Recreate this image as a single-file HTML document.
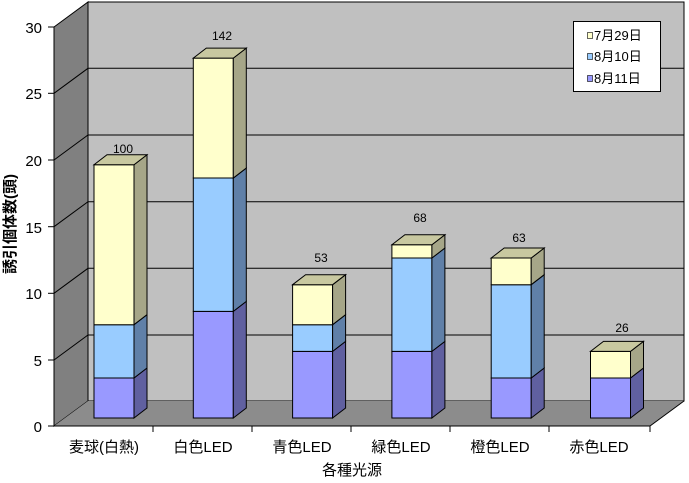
<!DOCTYPE html>
<html><head><meta charset="utf-8"><style>
html,body{margin:0;padding:0;background:#fff;}
svg{display:block;font-family:"Liberation Sans","Noto Sans CJK JP",sans-serif;}
</style></head><body>
<svg width="689" height="483" viewBox="0 0 689 483" xmlns="http://www.w3.org/2000/svg">
<!-- walls -->
<polygon points="88,2 684,2 684,401 88,401" fill="#c0c0c0" stroke="#000" stroke-width="1"/>
<polygon points="54,27 88,2 88,401 54,426" fill="#808080" stroke="#000" stroke-width="1"/>
<polygon points="54,426 88,401 684,401 650,426" fill="#8c8c8c"/>
<line x1="54" y1="426" x2="650" y2="426" stroke="#000"/>
<line x1="650" y1="426" x2="684" y2="401" stroke="#000"/>
<!-- gridlines -->
<g stroke="#000" stroke-width="1" fill="none">
<polyline points="54,93.3 88,68.3 684,68.3"/>
<polyline points="54,160 88,135 684,135"/>
<polyline points="54,226.7 88,201.7 684,201.7"/>
<polyline points="54,293.3 88,268.3 684,268.3"/>
<polyline points="54,360 88,335 684,335"/>
<line x1="54" y1="27" x2="54" y2="426"/>
<line x1="48" y1="27" x2="54" y2="27"/><line x1="48" y1="93.3" x2="54" y2="93.3"/>
<line x1="48" y1="160" x2="54" y2="160"/><line x1="48" y1="226.7" x2="54" y2="226.7"/>
<line x1="48" y1="293.3" x2="54" y2="293.3"/><line x1="48" y1="360" x2="54" y2="360"/>
<line x1="48" y1="426" x2="54" y2="426"/>
<line x1="153" y1="426" x2="153" y2="432"/><line x1="252" y1="426" x2="252" y2="432"/>
<line x1="351" y1="426" x2="351" y2="432"/><line x1="450" y1="426" x2="450" y2="432"/>
<line x1="549" y1="426" x2="549" y2="432"/><line x1="650" y1="426" x2="650" y2="432"/>
</g>
<g font-size="15" text-anchor="end" fill="#000">
<text x="42" y="33">30</text><text x="42" y="99">25</text><text x="42" y="166">20</text>
<text x="42" y="233">15</text><text x="42" y="299">10</text><text x="42" y="366">5</text><text x="42" y="432">0</text>
</g>
<g id="bars" stroke="#000" stroke-width="1"></g>
<g font-size="15" text-anchor="middle">
<text x="104" y="452">麦球(白熱)</text><text x="203" y="452">白色LED</text><text x="302" y="452">青色LED</text>
<text x="401" y="452">緑色LED</text><text x="500" y="452">橙色LED</text><text x="599" y="452">赤色LED</text>
<text x="352" y="475">各種光源</text>
</g>
<text x="0" y="0" font-size="15" font-weight="bold" text-anchor="middle" transform="translate(15,224) rotate(-90)">誘引個体数(頭)</text>
<g font-size="12" text-anchor="middle">
<text x="123" y="153">100</text><text x="222" y="40">142</text><text x="321" y="262">53</text>
<text x="420" y="222">68</text><text x="519" y="242">63</text><text x="622" y="332">26</text>
</g>
<!-- legend -->
<rect x="573.5" y="21.5" width="87" height="70" fill="#fff" stroke="#000"/>
<g font-size="13">
<rect x="587.5" y="32.5" width="5" height="6" fill="#ffffcc" stroke="#000" stroke-width="0.6"/><text x="594" y="40">7月29日</text>
<rect x="587.5" y="53.5" width="5" height="6" fill="#99ccff" stroke="#000" stroke-width="0.6"/><text x="594" y="61">8月10日</text>
<rect x="587.5" y="75.5" width="5" height="6" fill="#9999ff" stroke="#000" stroke-width="0.6"/><text x="594" y="83">8月11日</text>
</g>
<script>
(function(){
var data=[[3,4,12],[8,10,9],[5,2,3],[5,7,1],[3,7,2],[3,0,2]];
var cols=[["#9999ff","#6060a0","#8080c8"],["#99ccff","#6080a8","#80a8d0"],["#ffffcc","#a6a688","#c8c8a0"]];
var g=document.getElementById("bars"),ns="http://www.w3.org/2000/svg";
function poly(p,f){var e=document.createElementNS(ns,"polygon");e.setAttribute("points",p);e.setAttribute("fill",f);g.appendChild(e);}
data.forEach(function(d,i){
var x0=94+i*99.3,x1=x0+40,base=418,k=13.33,dx=13,dy=10,cum=0,top=0;
d.forEach(function(v,j){if(!v)return;var yb=base-cum*k;cum+=v;var yt=base-cum*k;
poly(x0+","+yt+" "+x1+","+yt+" "+x1+","+yb+" "+x0+","+yb,cols[j][0]);
poly(x1+","+yt+" "+(x1+dx)+","+(yt-dy)+" "+(x1+dx)+","+(yb-dy)+" "+x1+","+yb,cols[j][1]);
top=j;});
var yt=base-cum*k;
poly(x0+","+yt+" "+(x0+dx)+","+(yt-dy)+" "+(x1+dx)+","+(yt-dy)+" "+x1+","+yt,cols[top][2]);
});
})();
</script>
</svg>
</body></html>
